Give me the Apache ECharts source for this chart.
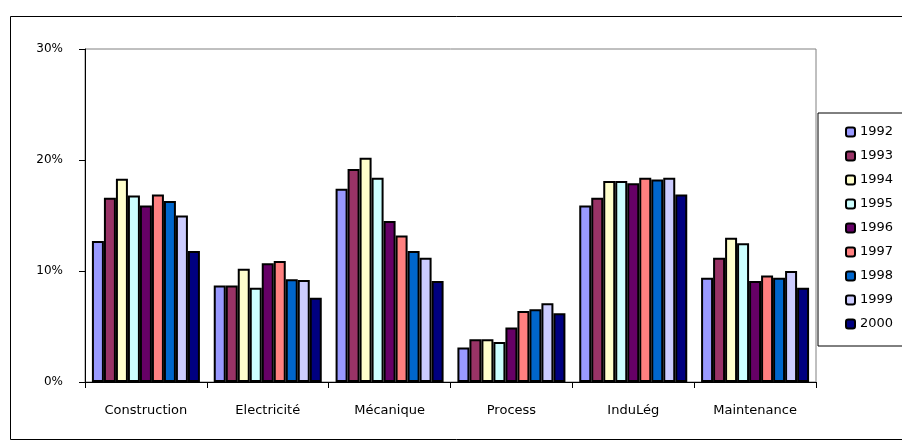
<!DOCTYPE html>
<html>
<head>
<meta charset="utf-8">
<script src="https://cdn.jsdelivr.net/npm/echarts@6/dist/echarts.min.js"></script>
<style>
  html, body { margin: 0; padding: 0; background: #fff; }
  #main { width: 902px; height: 440px; }
</style>
</head>
<body>
<div id="main"></div>
<script>
const categories = ['Construction', 'Electricité', 'Mécanique', 'Process', 'InduLég', 'Maintenance'];
const years = ['1992', '1993', '1994', '1995', '1996', '1997', '1998', '1999', '2000'];
const yearColors = ['#9999FF', '#993366', '#FFFFCC', '#CCFFFF', '#660066', '#FF8080', '#0066CC', '#CCCCFF', '#000080'];

// % par secteur, une liste par année
const v1992 = [12.7, 8.7, 17.4, 3.1, 15.9, 9.4];
const v1993 = [16.6, 8.7, 19.2, 3.85, 16.6, 11.2];
const v1994 = [18.3, 10.2, 20.2, 3.85, 18.1, 13.0];
const v1995 = [16.8, 8.5, 18.4, 3.6, 18.1, 12.5];
const v1996 = [15.9, 10.7, 14.5, 4.9, 17.9, 9.1];
const v1997 = [16.9, 10.9, 13.2, 6.4, 18.4, 9.6];
const v1998 = [16.3, 9.25, 11.8, 6.55, 18.25, 9.4];
const v1999 = [15.0, 9.2, 11.2, 7.1, 18.4, 10.0];
const v2000 = [11.8, 7.6, 9.1, 6.2, 16.9, 8.5];
const values = [v1992, v1993, v1994, v1995, v1996, v1997, v1998, v1999, v2000];

const yTicks = [0, 10, 20, 30];

const chart = echarts.init(document.getElementById('main'));

chart.setOption({
  animation: false,
  textStyle: { fontFamily: 'DejaVu Sans' },
  graphic: [
    {
      type: 'rect',
      left: 8, top: 14,
      shape: { width: 920, height: 423 },
      style: { fill: 'none', stroke: '#000', lineWidth: 1 },
      z: -1
    }
  ],
  grid: {
    left: 85, right: 86, top: 49, bottom: 58,
    show: true, borderColor: '#808080', borderWidth: 1
  },
  legend: {
    orient: 'vertical',
    left: 818, top: 113,
    padding: [12, 40, 15, 27],
    itemGap: 10,
    itemWidth: 9, itemHeight: 9,
    backgroundColor: '#fff',
    borderColor: '#000', borderWidth: 1,
    textStyle: { fontSize: 13, color: '#000', lineHeight: 14 },
    data: years
  },
  xAxis: {
    type: 'category',
    data: categories,
    axisLine: { lineStyle: { color: '#000' } },
    axisTick: { show: true, length: 6, lineStyle: { color: '#000' } },
    axisLabel: { fontSize: 13, color: '#000', margin: 22 }
  },
  yAxis: {
    type: 'value',
    min: yTicks[0], max: yTicks[yTicks.length - 1], interval: 10,
    splitLine: { show: false },
    axisLine: { show: true, lineStyle: { color: '#000' } },
    axisTick: { show: true, length: 6, lineStyle: { color: '#000' } },
    axisLabel: { formatter: '{value}%', fontSize: 12, color: '#000', margin: 22 }
  },
  series: years.map((y, i) => ({
    name: y,
    type: 'bar',
    data: values[i],
    barWidth: 12,
    barGap: '0%',
    itemStyle: { color: yearColors[i], borderColor: '#000', borderWidth: 2 }
  }))
});
</script>
</body>
</html>
